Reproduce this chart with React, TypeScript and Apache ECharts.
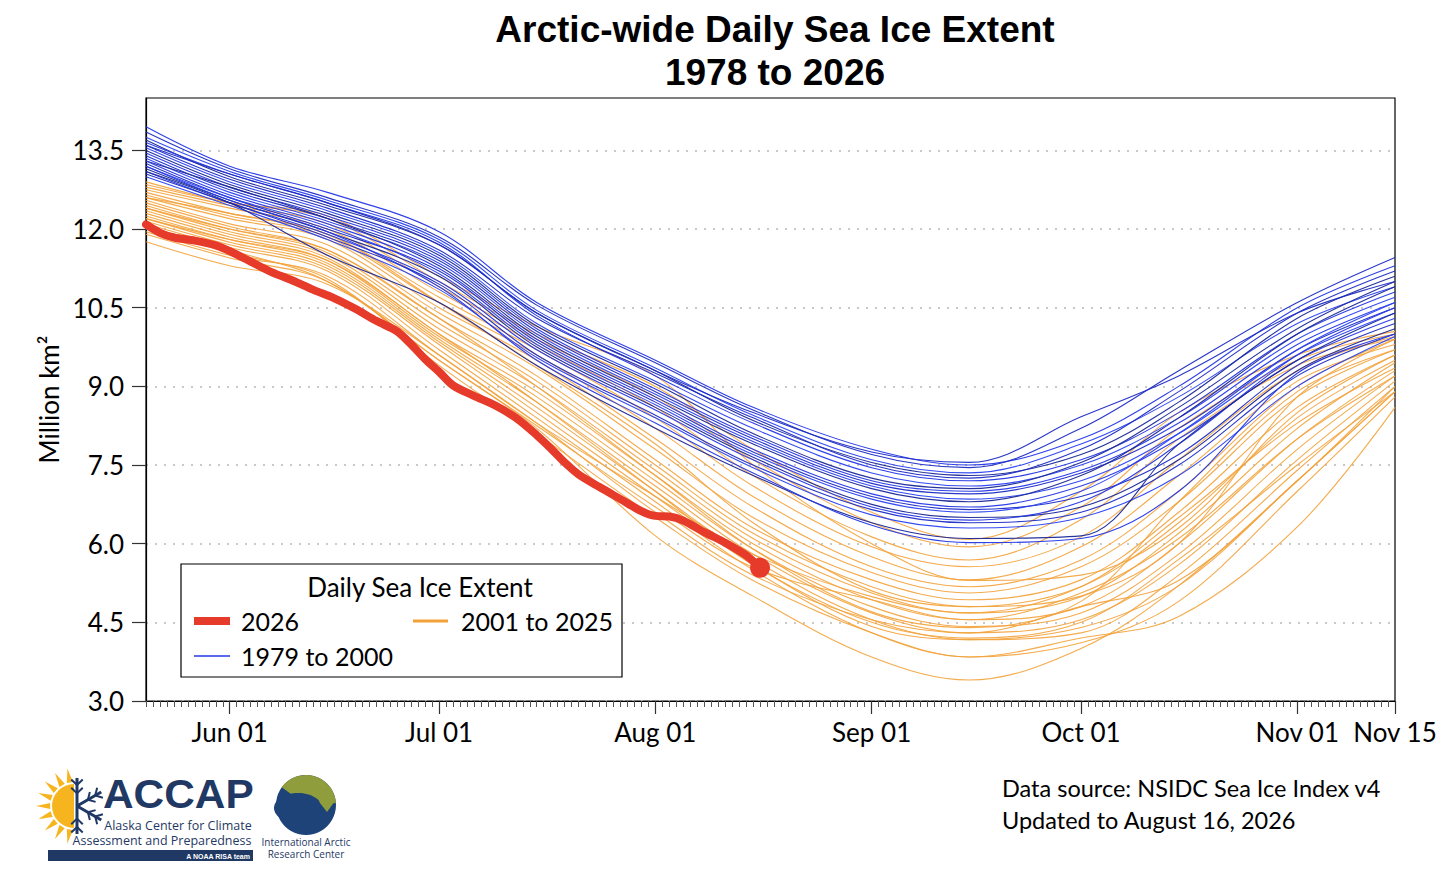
import { useEffect, useRef } from 'react';
import * as echarts from 'echarts';

// day categories, May 20 .. Nov 15
const MONTHS = ['May', 'Jun', 'Jul', 'Aug', 'Sep', 'Oct', 'Nov'];
const MONTH_LENGTHS = [31, 30, 31, 31, 30, 31, 30];
const FIRST_DAY = 20;
const LAST_DAY = 15;

const days: string[] = [];
MONTHS.forEach((m, mi) => {
  const from = mi === 0 ? FIRST_DAY : 1;
  const to = mi === MONTHS.length - 1 ? LAST_DAY : MONTH_LENGTHS[mi];
  for (let d = from; d <= to; d++) days.push(`${m} ${String(d).padStart(2, '0')}`);
});

const TICK_LABELS = ['Jun 01', 'Jul 01', 'Aug 01', 'Sep 01', 'Oct 01', 'Nov 01', 'Nov 15'];
const Y_TICKS = [3, 4.5, 6, 7.5, 9, 10.5, 12, 13.5];

// dates the historical curves were read at
const KEY_DATES = ['May 20', 'Jun 01', 'Jun 15', 'Jul 01', 'Jul 15', 'Aug 01', 'Aug 15',
  'Sep 01', 'Sep 15', 'Oct 01', 'Oct 15', 'Nov 01', 'Nov 15'];

// 1979 to 2000, million km2
const BLUE_LINES = [
  [13.95, 13.2, 12.7, 11.95, 10.6, 9.5, 8.6, 7.8, 7.5, 8.0, 9.0, 10.5, 11.3],
  [13.85, 13.15, 12.6, 11.85, 10.55, 9.45, 8.55, 7.7, 7.45, 8.2, 9.3, 10.6, 11.46],
  [13.75, 13.1, 12.55, 11.8, 10.45, 9.35, 8.45, 7.6, 7.35, 7.9, 8.8, 10.2, 10.9],
  [13.7, 13.0, 12.45, 11.7, 10.4, 9.3, 8.35, 7.55, 7.3, 7.7, 8.7, 10.3, 11.1],
  [13.65, 13.05, 12.5, 11.75, 10.35, 9.2, 8.3, 7.45, 7.2, 7.6, 8.5, 10.0, 10.8],
  [13.6, 12.95, 12.4, 11.6, 10.3, 9.25, 8.4, 7.5, 7.25, 7.8, 8.9, 10.4, 11.2],
  [13.55, 12.9, 12.35, 11.55, 10.2, 9.1, 8.2, 7.35, 7.1, 7.5, 8.4, 9.9, 10.7],
  [13.5, 12.85, 12.3, 11.5, 10.15, 9.05, 8.1, 7.25, 7.05, 7.55, 8.6, 10.1, 11.0],
  [13.45, 12.8, 12.25, 11.45, 10.1, 8.95, 8.05, 7.2, 7.0, 7.4, 8.3, 9.8, 10.6],
  [13.4, 12.75, 12.2, 11.4, 10.05, 8.9, 8.0, 7.15, 6.95, 7.35, 8.2, 9.7, 10.5],
  [13.35, 12.7, 12.15, 11.35, 10.0, 8.85, 7.95, 7.1, 6.85, 7.2, 8.1, 9.6, 10.4],
  [13.3, 12.8, 12.2, 11.3, 9.95, 8.8, 7.9, 7.05, 6.8, 7.3, 8.4, 10.0, 10.9],
  [13.3, 12.65, 12.1, 11.25, 9.9, 8.75, 7.8, 6.95, 6.7, 7.1, 8.0, 9.5, 10.3],
  [13.25, 12.6, 12.0, 11.2, 9.85, 8.7, 7.75, 6.9, 6.65, 6.9, 7.7, 9.4, 10.2],
  [13.2, 12.6, 12.05, 11.15, 9.8, 8.65, 7.7, 6.85, 6.6, 7.0, 8.1, 9.7, 10.6],
  [13.15, 12.55, 11.95, 11.1, 9.75, 8.6, 7.65, 6.75, 6.5, 6.7, 7.6, 9.3, 10.1],
  [13.1, 12.5, 11.9, 11.0, 9.7, 8.55, 7.6, 6.7, 6.45, 6.8, 7.9, 9.6, 10.5],
  [13.05, 12.5, 11.85, 10.95, 9.6, 8.45, 7.5, 6.65, 6.4, 6.6, 7.5, 9.2, 10.0],
  [13.0, 12.45, 11.8, 10.85, 9.55, 8.4, 7.45, 6.55, 6.3, 6.5, 7.3, 9.0, 9.95],
  [13.1, 12.5, 11.5, 10.6, 9.4, 8.2, 7.3, 6.4, 6.1, 6.15, 7.9, 9.5, 10.4],
  [13.2, 12.55, 11.95, 10.9, 9.5, 8.3, 7.35, 6.35, 6.02, 6.1, 7.0, 9.25, 10.0],
  [13.6, 13.05, 12.5, 11.7, 10.4, 9.3, 8.5, 7.75, 7.55, 8.42, 9.2, 10.4, 11.0],
];

// 2001 to 2025
const ORANGE_LINES = [
  [12.9, 12.5, 12.2, 11.0, 10.0, 9.0, 7.8, 6.6, 6.08, 7.0, 8.5, 9.6, 10.05],
  [12.8, 12.45, 12.1, 10.9, 9.9, 8.8, 7.6, 6.4, 5.94, 6.7, 8.2, 9.5, 10.0],
  [12.75, 12.4, 12.0, 10.8, 9.8, 8.6, 7.3, 6.13, 5.69, 6.46, 8.0, 9.4, 9.9],
  [12.7, 12.3, 11.9, 10.7, 9.7, 8.4, 7.1, 5.94, 5.56, 6.13, 7.6, 9.3, 9.95],
  [12.65, 12.25, 11.85, 10.6, 9.6, 8.2, 6.9, 5.75, 5.31, 5.94, 7.3, 9.1, 9.8],
  [12.6, 12.2, 11.8, 10.5, 9.5, 8.0, 6.7, 5.56, 5.18, 5.69, 7.0, 9.0, 9.9],
  [12.55, 12.1, 11.7, 10.4, 9.35, 7.8, 6.5, 5.45, 5.06, 5.56, 6.8, 8.8, 9.7],
  [12.5, 12.05, 11.6, 10.3, 9.2, 7.6, 6.3, 5.31, 4.93, 5.31, 6.6, 8.6, 9.6],
  [12.45, 12.0, 11.55, 10.2, 9.1, 7.5, 6.2, 5.18, 4.8, 5.18, 6.4, 8.4, 9.5],
  [12.4, 11.95, 11.5, 10.1, 9.0, 7.4, 6.1, 5.06, 4.68, 4.99, 6.2, 8.2, 9.45],
  [12.35, 11.9, 11.45, 10.0, 8.9, 7.3, 6.0, 4.93, 4.55, 4.8, 6.0, 8.0, 9.3],
  [12.3, 11.85, 11.4, 9.95, 8.8, 7.2, 5.9, 4.8, 4.42, 4.68, 5.8, 7.8, 9.2],
  [12.25, 11.8, 11.35, 9.9, 8.7, 7.1, 5.8, 4.68, 4.3, 4.55, 5.6, 7.6, 9.1],
  [12.2, 11.75, 11.3, 9.85, 8.6, 7.0, 5.7, 4.55, 4.17, 4.3, 5.4, 7.4, 9.0],
  [12.15, 11.7, 11.25, 9.8, 8.5, 6.9, 5.6, 4.42, 4.17, 4.4, 5.2, 7.2, 8.9],
  [12.1, 11.65, 11.2, 9.7, 8.4, 6.8, 5.5, 4.3, 3.84, 4.11, 4.9, 7.0, 8.8],
  [12.05, 11.6, 11.0, 9.5, 8.2, 6.15, 5.0, 3.84, 3.4, 4.0, 5.2, 7.2, 8.9],
  [12.0, 11.55, 11.05, 9.4, 8.1, 6.5, 5.3, 4.3, 3.84, 4.2, 4.61, 6.32, 8.6],
  [11.95, 11.5, 11.1, 9.6, 8.3, 6.6, 5.4, 4.55, 4.3, 4.8, 5.3, 7.2, 9.0],
  [11.9, 11.45, 11.0, 9.5, 8.25, 6.7, 5.55, 4.93, 4.55, 5.06, 6.1, 8.0, 9.2],
  [11.76, 11.3, 10.95, 9.6, 8.3, 6.9, 5.8, 4.99, 4.68, 5.18, 6.5, 8.3, 9.35],
  [12.85, 12.5, 12.25, 11.1, 10.14, 9.2, 7.5, 6.0, 5.3, 5.4, 6.3, 8.5, 9.6],
  [12.6, 12.3, 11.9, 10.6, 9.4, 7.9, 6.4, 5.1, 4.8, 5.0, 6.0, 8.8, 9.9],
  [12.4, 12.0, 11.6, 10.3, 9.0, 7.3, 5.9, 4.7, 4.4, 4.9, 6.8, 8.9, 9.7],
  [12.2, 11.8, 11.4, 10.0, 8.7, 7.0, 5.6, 4.5, 4.2, 4.5, 5.7, 7.5, 8.9],
];

// 2026, up to August 16
const RED_DATES = ['May 20', 'May 22', 'May 24', 'May 27', 'May 30', 'Jun 01', 'Jun 04', 'Jun 07',
  'Jun 10', 'Jun 13', 'Jun 16', 'Jun 19', 'Jun 22', 'Jun 25', 'Jun 27', 'Jun 29', 'Jul 01',
  'Jul 03', 'Jul 06', 'Jul 09', 'Jul 12', 'Jul 15', 'Jul 17', 'Jul 19', 'Jul 21', 'Jul 24',
  'Jul 27', 'Jul 30', 'Aug 01', 'Aug 03', 'Aug 05', 'Aug 08', 'Aug 11', 'Aug 14', 'Aug 16'];
const RED_VALUES = [12.09, 11.93, 11.84, 11.78, 11.69, 11.58, 11.38, 11.18,
  11.02, 10.84, 10.68, 10.48, 10.25, 10.05, 9.8, 9.52, 9.28,
  9.02, 8.82, 8.64, 8.4, 8.07, 7.82, 7.55, 7.32, 7.08,
  6.85, 6.62, 6.53, 6.52, 6.44, 6.22, 6.02, 5.78, 5.54];

const BLUE_SHADES = ['#2437e6', '#1d2cc4', '#2a42f2', '#1b2897'];
const ORANGE = '#f3a23a';
const RED = '#e63a2a';
const NAVY = '#1f3864';
const LABEL_FONT = 'Lato';

function logoGraphics(): any[] {
  const els: any[] = [];
  const cx = 74, cy = 806;
  // sun rays on the left half
  for (let i = 0; i < 9; i++) {
    const a = (100 + i * 20) * Math.PI / 180;
    const w = 0.13;
    els.push({
      type: 'polygon',
      shape: {
        points: [
          [cx + Math.cos(a - w) * 24, cy - Math.sin(a - w) * 24],
          [cx + Math.cos(a) * 38, cy - Math.sin(a) * 38],
          [cx + Math.cos(a + w) * 24, cy - Math.sin(a + w) * 24],
        ],
      },
      style: { fill: '#f6b51e' },
    });
  }
  els.push({
    type: 'sector',
    shape: { cx, cy, r: 22, r0: 0, startAngle: Math.PI / 2, endAngle: Math.PI * 1.5 },
    style: { fill: '#f6b51e' },
  });
  // snowflake on the right half
  for (let i = 0; i < 6; i++) {
    const a = (i * 60 - 90) * Math.PI / 180;
    if (Math.cos(a) < -0.1) continue;
    const ex = cx + 3 + Math.cos(a) * 28, ey = cy + Math.sin(a) * 28;
    els.push({ type: 'line', shape: { x1: cx + 3, y1: cy, x2: ex, y2: ey }, style: { stroke: NAVY, lineWidth: 3 } });
    for (const f of [0.45, 0.75]) {
      const bx = cx + 3 + Math.cos(a) * 28 * f, by = cy + Math.sin(a) * 28 * f;
      for (const s of [-1, 1]) {
        const b = a + s * 0.8;
        els.push({
          type: 'line',
          shape: { x1: bx, y1: by, x2: bx + Math.cos(b) * 8, y2: by + Math.sin(b) * 8 },
          style: { stroke: NAVY, lineWidth: 2 },
        });
      }
    }
  }
  els.push(
    { type: 'text', x: 103, y: 794, scaleX: 1.06, style: { text: 'ACCAP', font: 'bold 40px "Liberation Sans"', fill: NAVY, textVerticalAlign: 'middle' } },
    { type: 'text', x: 178, y: 825, style: { text: 'Alaska Center for Climate', font: '12.5px "Open Sans"', fill: NAVY, textAlign: 'center', textVerticalAlign: 'middle' } },
    { type: 'text', x: 162, y: 840, style: { text: 'Assessment and Preparedness', font: '12.5px "Open Sans"', fill: NAVY, textAlign: 'center', textVerticalAlign: 'middle' } },
    { type: 'rect', shape: { x: 48, y: 850, width: 205, height: 11 }, style: { fill: NAVY } },
    { type: 'text', x: 250, y: 856, style: { text: 'A NOAA RISA team', font: 'bold 7px "Liberation Sans"', fill: '#fff', textAlign: 'right', textVerticalAlign: 'middle' } },
    // IARC globe
    { type: 'circle', shape: { cx: 306, cy: 805, r: 30 }, style: { fill: '#1d4378' } },
    { type: 'sector', shape: { cx: 306, cy: 805, r: 30, r0: 0, startAngle: Math.PI * 1.2, endAngle: Math.PI * 1.98 }, style: { fill: '#8f9d3c' } },
    { type: 'ellipse', shape: { cx: 298, cy: 808, rx: 24, ry: 15 }, style: { fill: '#1d4378' } },
    { type: 'polygon', shape: { points: [[316, 792], [331, 788], [335, 801], [327, 812], [320, 803]] }, style: { fill: '#8f9d3c' } },
    { type: 'text', x: 306, y: 842, style: { text: 'International Arctic', font: '10px "Open Sans"', fill: NAVY, textAlign: 'center', textVerticalAlign: 'middle' } },
    { type: 'text', x: 306, y: 854, style: { text: 'Research Center', font: '10px "Open Sans"', fill: NAVY, textAlign: 'center', textVerticalAlign: 'middle' } },
  );
  return els;
}

function legendGraphics(): any[] {
  const font = `25px ${LABEL_FONT}`;
  return [
    { type: 'rect', z: 10, shape: { x: 181, y: 564, width: 441, height: 113 }, style: { fill: '#fff', stroke: '#000', lineWidth: 1.2 } },
    { type: 'text', z: 11, x: 420, y: 587, style: { text: 'Daily Sea Ice Extent', font: `26px ${LABEL_FONT}`, fill: '#000', textAlign: 'center', textVerticalAlign: 'middle' } },
    { type: 'line', z: 11, shape: { x1: 194, y1: 621, x2: 230, y2: 621 }, style: { stroke: RED, lineWidth: 8 } },
    { type: 'text', z: 11, x: 241, y: 621, style: { text: '2026', font, fill: '#000', textVerticalAlign: 'middle' } },
    { type: 'line', z: 11, shape: { x1: 413, y1: 621, x2: 448, y2: 621 }, style: { stroke: ORANGE, lineWidth: 3 } },
    { type: 'text', z: 11, x: 461, y: 621, style: { text: '2001 to 2025', font, fill: '#000', textVerticalAlign: 'middle' } },
    { type: 'line', z: 11, shape: { x1: 194, y1: 656, x2: 230, y2: 656 }, style: { stroke: '#2437e6', lineWidth: 1.5 } },
    { type: 'text', z: 11, x: 241, y: 656, style: { text: '1979 to 2000', font, fill: '#000', textVerticalAlign: 'middle' } },
  ];
}

export default function App() {
  const ref = useRef<HTMLDivElement>(null);

  useEffect(() => {
    if (!ref.current) return;
    document.body.style.margin = '0';
    const chart = echarts.init(ref.current, undefined, { renderer: 'svg' });

    const lineSeries = (vals: number[], color: string, width: number, opacity: number) => ({
      type: 'line',
      data: KEY_DATES.map((d, i) => [d, vals[i]]),
      smooth: 0.35,
      showSymbol: false,
      silent: true,
      lineStyle: { color, width, opacity },
    });

    const series: any[] = [
      ...ORANGE_LINES.map((v) => lineSeries(v, ORANGE, 1.1, 0.9)),
      ...BLUE_LINES.map((v, i) => lineSeries(v, BLUE_SHADES[i % BLUE_SHADES.length], 1.1, 0.95)),
      {
        type: 'line',
        data: RED_DATES.map((d, i) => [d, RED_VALUES[i]]),
        smooth: 0.3,
        showSymbol: false,
        silent: true,
        z: 5,
        lineStyle: { color: RED, width: 8, cap: 'round', join: 'round' },
      },
      {
        type: 'scatter',
        data: [[RED_DATES[RED_DATES.length - 1], RED_VALUES[RED_VALUES.length - 1]]],
        symbolSize: 20,
        silent: true,
        z: 6,
        itemStyle: { color: RED, opacity: 1 },
      },
    ];

    chart.setOption({
      animation: false,
      backgroundColor: '#fff',
      title: {
        text: 'Arctic-wide Daily Sea Ice Extent\n1978 to 2026',
        left: 770,
        top: 3,
        textAlign: 'center',
        textStyle: { fontFamily: 'Liberation Sans', fontWeight: 'bold', fontSize: 37, lineHeight: 43, color: '#000' },
      },
      grid: { left: 146, right: 61, top: 98, bottom: 173, show: true, borderColor: '#000', borderWidth: 1.2, containLabel: false },
      xAxis: [
        {
          type: 'category',
          data: days,
          boundaryGap: false,
          axisLine: { lineStyle: { color: '#000', width: 1.2 } },
          axisTick: { interval: 0, length: 6, lineStyle: { color: '#555' } },
          axisLabel: {
            interval: (_i: number, v: string) => TICK_LABELS.includes(v),
            margin: 18,
            color: '#000',
            fontFamily: LABEL_FONT,
            fontSize: 26,
          },
          splitLine: { show: false },
        },
        {
          type: 'category',
          data: days,
          boundaryGap: false,
          position: 'bottom',
          axisLine: { show: false },
          axisTick: { interval: (_i: number, v: string) => TICK_LABELS.includes(v), length: 13, lineStyle: { color: '#333', width: 1.2 } },
          axisLabel: { show: false },
          splitLine: { show: false },
        },
      ],
      yAxis: {
        type: 'value',
        min: 3,
        max: 14.5,
        interval: 1.5,
        name: 'Million km²',
        nameLocation: 'middle',
        nameGap: 81,
        nameRotate: 90,
        nameTextStyle: { fontFamily: LABEL_FONT, fontSize: 26, color: '#000' },
        axisLine: { show: true, lineStyle: { color: '#000', width: 1.2 } },
        axisTick: { show: true, length: 14, customValues: Y_TICKS, lineStyle: { color: '#333', width: 1.2 } },
        axisLabel: {
          customValues: Y_TICKS,
          formatter: (v: number) => v.toFixed(1),
          margin: 22,
          color: '#000',
          fontFamily: LABEL_FONT,
          fontSize: 26,
        },
        splitLine: { show: true, lineStyle: { color: '#b8b8b8', type: [2, 7], width: 1.5 } },
      },
      graphic: [
        ...legendGraphics(),
        ...logoGraphics(),
        { type: 'text', x: 1002, y: 788, style: { text: 'Data source: NSIDC Sea Ice Index v4', font: `23.5px ${LABEL_FONT}`, fill: '#000', textVerticalAlign: 'middle' } },
        { type: 'text', x: 1002, y: 820, style: { text: 'Updated to August 16, 2026', font: `23.5px ${LABEL_FONT}`, fill: '#000', textVerticalAlign: 'middle' } },
      ],
      series,
    });

    return () => chart.dispose();
  }, []);

  return <div ref={ref} style={{ width: 1456, height: 874 }} />;
}
